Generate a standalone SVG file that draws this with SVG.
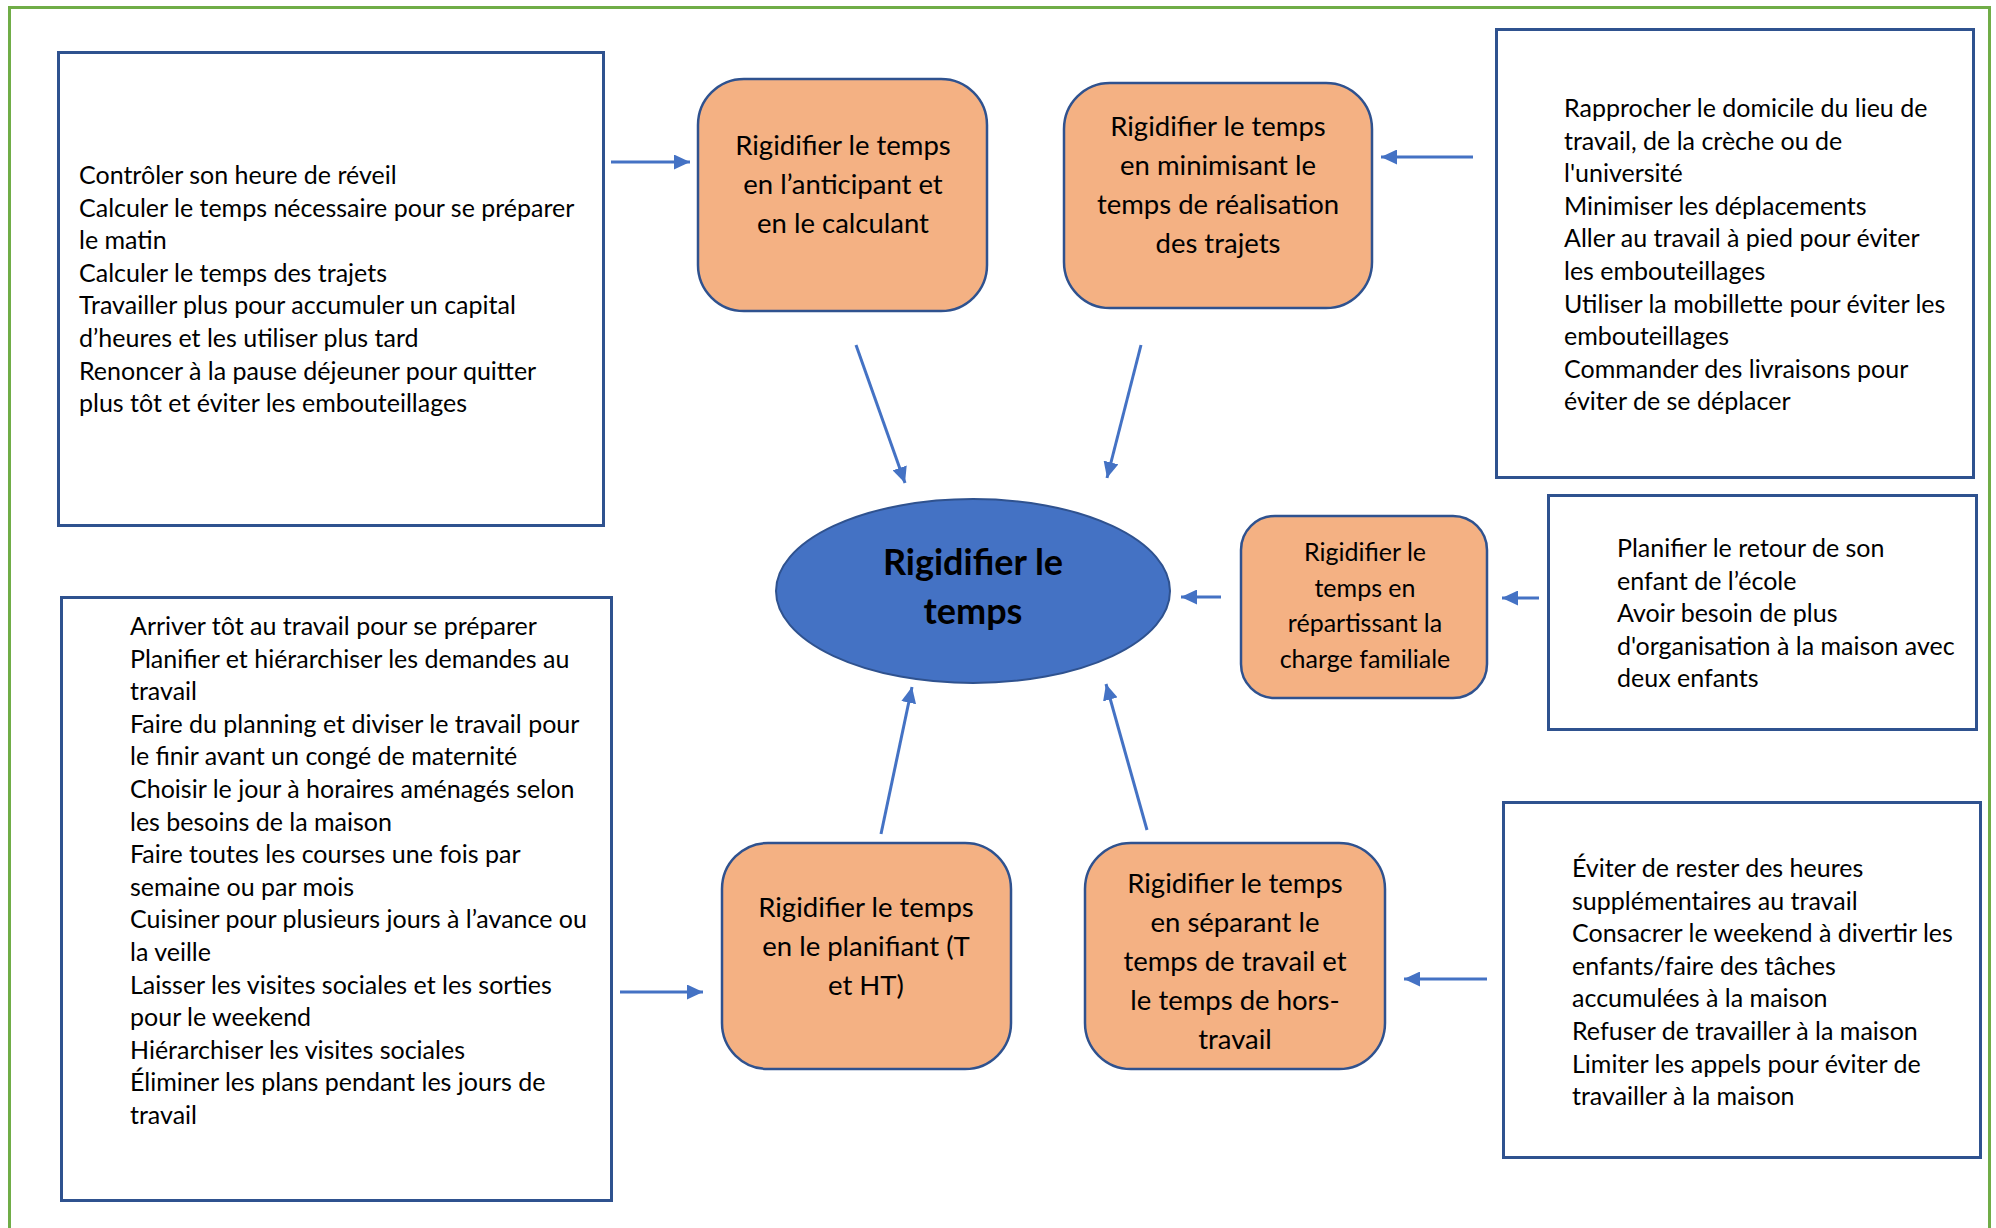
<svg xmlns="http://www.w3.org/2000/svg" width="1996" height="1228" viewBox="0 0 1996 1228">
  <defs>
    <marker id="arrow" markerUnits="userSpaceOnUse" viewBox="0 0 16 15" refX="16" refY="7.5" markerWidth="16" markerHeight="15" orient="auto">
      <path d="M0,0 L16,7.5 L0,15 Z" fill="#4472C4"/>
    </marker>
    <style>
      .frame { fill: none; stroke: #70AD47; stroke-width: 3; }
      .list { fill: #FFFFFF; stroke: #2F528F; stroke-width: 3; }
      .step { fill: #F4B183; stroke: #2F528F; stroke-width: 2.5; }
      .core { fill: #4472C4; stroke: #2F528F; stroke-width: 2; }
      .conn { stroke: #4472C4; stroke-width: 3; fill: none; marker-end: url(#arrow); }
      .txt { font-family: Lato, "Liberation Sans", sans-serif; fill: #000000; }
      .ltxt { font-size: 25px; }
      .stxt { font-size: 27.5px; text-anchor: middle; }
      .rtxt { font-size: 25px; text-anchor: middle; }
      .ctxt { font-size: 36px; font-weight: bold; text-anchor: middle; }
    </style>
  </defs>

  <rect width="1996" height="1228" fill="#FFFFFF"/>

  <!-- outer frame (open at the bottom) -->
  <path class="frame" d="M9.5,1240 L9.5,7.5 L1989.5,7.5 L1989.5,1240"/>

  <!-- central node -->
  <g id="core">
    <ellipse class="core" cx="973" cy="591" rx="197" ry="92"/>
    <text class="txt ctxt" x="973" y="575">Rigidifier le</text>
    <text class="txt ctxt" x="973" y="624">temps</text>
  </g>

  <!-- strategy nodes -->
  <g id="anticipant">
    <rect class="step" x="698" y="79" width="289" height="232" rx="46"/>
    <text class="txt stxt" x="843" y="155">Rigidifier le temps<tspan x="843" dy="39">en l’anticipant et</tspan><tspan x="843" dy="39">en le calculant</tspan></text>
  </g>

  <g id="minimisant">
    <rect class="step" x="1064" y="83" width="308" height="225" rx="46"/>
    <text class="txt stxt" x="1218" y="136">Rigidifier le temps<tspan x="1218" dy="39">en minimisant le</tspan><tspan x="1218" dy="39">temps de réalisation</tspan><tspan x="1218" dy="39">des trajets</tspan></text>
  </g>

  <g id="repartissant">
    <rect class="step" x="1241" y="516" width="246" height="182" rx="34"/>
    <text class="txt rtxt" x="1365" y="561">Rigidifier le<tspan x="1365" dy="35.5">temps en</tspan><tspan x="1365" dy="35.5">répartissant la</tspan><tspan x="1365" dy="35.5">charge familiale</tspan></text>
  </g>

  <g id="planifiant">
    <rect class="step" x="722" y="843" width="289" height="226" rx="46"/>
    <text class="txt stxt" x="866" y="917">Rigidifier le temps<tspan x="866" dy="39">en le planifiant (T</tspan><tspan x="866" dy="39">et HT)</tspan></text>
  </g>

  <g id="separant">
    <rect class="step" x="1085" y="843" width="300" height="226" rx="46"/>
    <text class="txt stxt" x="1235" y="893">Rigidifier le temps<tspan x="1235" dy="39">en séparant le</tspan><tspan x="1235" dy="39">temps de travail et</tspan><tspan x="1235" dy="39">le temps de hors-</tspan><tspan x="1235" dy="39">travail</tspan></text>
  </g>

  <!-- practice lists -->
  <g id="list-anticipant">
    <rect class="list" x="58.5" y="52.5" width="545" height="473"/>
    <text class="txt ltxt" x="79" y="184">Contrôler son heure de réveil<tspan x="79" dy="32.6">Calculer le temps nécessaire pour se préparer</tspan><tspan x="79" dy="32.6">le matin</tspan><tspan x="79" dy="32.6">Calculer le temps des trajets</tspan><tspan x="79" dy="32.6">Travailler plus pour accumuler un capital</tspan><tspan x="79" dy="32.6">d’heures et les utiliser plus tard</tspan><tspan x="79" dy="32.6">Renoncer à la pause déjeuner pour quitter</tspan><tspan x="79" dy="32.6">plus tôt et éviter les embouteillages</tspan></text>
  </g>

  <g id="list-minimisant">
    <rect class="list" x="1496.5" y="29.5" width="477" height="448"/>
    <text class="txt ltxt" x="1564" y="117">Rapprocher le domicile du lieu de<tspan x="1564" dy="32.6">travail, de la crèche ou de</tspan><tspan x="1564" dy="32.6">l'université</tspan><tspan x="1564" dy="32.6">Minimiser les déplacements</tspan><tspan x="1564" dy="32.6">Aller au travail à pied pour éviter</tspan><tspan x="1564" dy="32.6">les embouteillages</tspan><tspan x="1564" dy="32.6">Utiliser la mobillette pour éviter les</tspan><tspan x="1564" dy="32.6">embouteillages</tspan><tspan x="1564" dy="32.6">Commander des livraisons pour</tspan><tspan x="1564" dy="32.6">éviter de se déplacer</tspan></text>
  </g>

  <g id="list-repartissant">
    <rect class="list" x="1548.5" y="495.5" width="428" height="234"/>
    <text class="txt ltxt" x="1617" y="557">Planifier le retour de son<tspan x="1617" dy="32.6">enfant de l’école</tspan><tspan x="1617" dy="32.6">Avoir besoin de plus</tspan><tspan x="1617" dy="32.6">d'organisation à la maison avec</tspan><tspan x="1617" dy="32.6">deux enfants</tspan></text>
  </g>

  <g id="list-planifiant">
    <rect class="list" x="61.5" y="597.5" width="550" height="603"/>
    <text class="txt ltxt" x="130" y="635">Arriver tôt au travail pour se préparer<tspan x="130" dy="32.6">Planifier et hiérarchiser les demandes au</tspan><tspan x="130" dy="32.6">travail</tspan><tspan x="130" dy="32.6">Faire du planning et diviser le travail pour</tspan><tspan x="130" dy="32.6">le finir avant un congé de maternité</tspan><tspan x="130" dy="32.6">Choisir le jour à horaires aménagés selon</tspan><tspan x="130" dy="32.6">les besoins de la maison</tspan><tspan x="130" dy="32.6">Faire toutes les courses une fois par</tspan><tspan x="130" dy="32.6">semaine ou par mois</tspan><tspan x="130" dy="32.6">Cuisiner pour plusieurs jours à l’avance ou</tspan><tspan x="130" dy="32.6">la veille</tspan><tspan x="130" dy="32.6">Laisser les visites sociales et les sorties</tspan><tspan x="130" dy="32.6">pour le weekend</tspan><tspan x="130" dy="32.6">Hiérarchiser les visites sociales</tspan><tspan x="130" dy="32.6">Éliminer les plans pendant les jours de</tspan><tspan x="130" dy="32.6">travail</tspan></text>
  </g>

  <g id="list-separant">
    <rect class="list" x="1503.5" y="802.5" width="477" height="355"/>
    <text class="txt ltxt" x="1572" y="877">Éviter de rester des heures<tspan x="1572" dy="32.6">supplémentaires au travail</tspan><tspan x="1572" dy="32.6">Consacrer le weekend à divertir les</tspan><tspan x="1572" dy="32.6">enfants/faire des tâches</tspan><tspan x="1572" dy="32.6">accumulées à la maison</tspan><tspan x="1572" dy="32.6">Refuser de travailler à la maison</tspan><tspan x="1572" dy="32.6">Limiter les appels pour éviter de</tspan><tspan x="1572" dy="32.6">travailler à la maison</tspan></text>
  </g>

  <!-- connectors -->
  <g id="connectors">
    <line class="conn" x1="611" y1="162" x2="690" y2="162"/>
    <line class="conn" x1="1473" y1="157" x2="1381" y2="157"/>
    <line class="conn" x1="856" y1="345" x2="905" y2="483"/>
    <line class="conn" x1="1141" y1="345" x2="1107" y2="478"/>
    <line class="conn" x1="1221" y1="597" x2="1181" y2="597"/>
    <line class="conn" x1="1539" y1="598" x2="1502" y2="598"/>
    <line class="conn" x1="881" y1="834" x2="912" y2="687"/>
    <line class="conn" x1="1147" y1="830" x2="1106" y2="684"/>
    <line class="conn" x1="620" y1="992" x2="703" y2="992"/>
    <line class="conn" x1="1487" y1="979" x2="1404" y2="979"/>
  </g>
</svg>
